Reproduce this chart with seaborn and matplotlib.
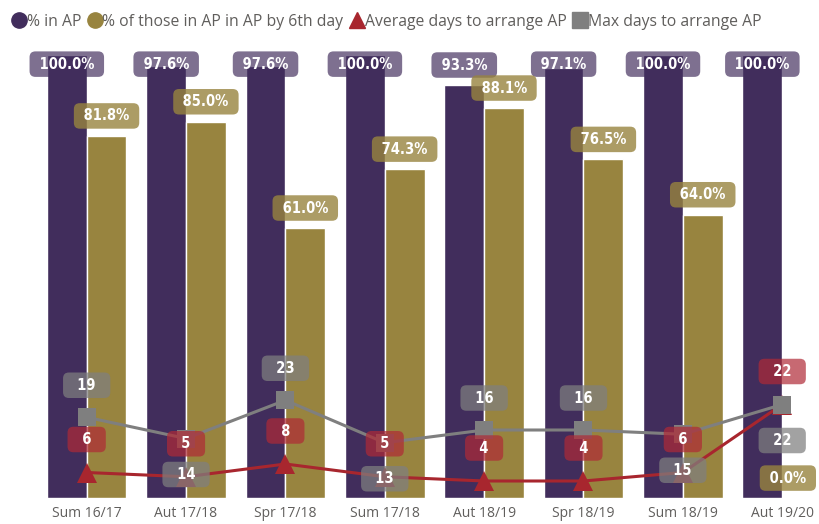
import matplotlib
matplotlib.use('Agg')
import matplotlib.pyplot as plt
import seaborn as sns
import pandas as pd
import numpy as np
from matplotlib.lines import Line2D

categories = ["Sum 16/17", "Aut 17/18", "Spr 17/18", "Sum 17/18",
              "Aut 18/19", "Spr 18/19", "Sum 18/19", "Aut 19/20"]
pct_in_ap = [100.0, 97.6, 97.6, 100.0, 93.3, 97.1, 100.0, 100.0]
pct_by_6th = [81.8, 85.0, 61.0, 74.3, 88.1, 76.5, 64.0, 0.0]
avg_days = [6, 5, 8, 5, 4, 4, 6, 22]
max_days = [19, 14, 23, 13, 16, 16, 15, 22]
series_names = ["% in AP", "% of those in AP in AP by 6th day",
                "Average days to arrange AP", "Max days to arrange AP"]

# label placement for the max-days labels (style)
max_label_side = ["above", "below", "above", "below", "above", "above", "below", "below"]

PURPLE = "#412d5c"
OLIVE = "#98843f"
RED = "#a8262e"
GREY = "#7f7f7f"
TXT = "#605e5c"

sns.set_theme(style="white")
plt.rcParams['font.family'] = ['Open Sans', 'DejaVu Sans']
LABEL_FONT = ['DejaVu Sans']

W, H = 819, 524
fig = plt.figure(figsize=(W / 100, H / 100), dpi=100)
left_px, right_px, top_px, bot_px = 37, 817, 42, 498
ax = fig.add_axes([left_px / W, (H - bot_px) / H, (right_px - left_px) / W, (bot_px - top_px) / H])

df = pd.DataFrame({
    "cat": categories * 2,
    "series": [series_names[0]] * len(categories) + [series_names[1]] * len(categories),
    "value": pct_in_ap + pct_by_6th,
})
sns.barplot(data=df, x="cat", y="value", hue="series", order=categories,
            hue_order=series_names[:2], palette=[PURPLE, OLIVE], saturation=1,
            width=0.8, ax=ax, legend=False, errorbar=None)
ax.set_xlim(-0.5, 7.35)
ax.set_ylim(0, 103)

ax2 = ax.twinx()
ax2.set_ylim(0, 107.3)
xs = np.arange(len(categories))
sns.lineplot(x=xs, y=avg_days, ax=ax2, color=RED, linewidth=2.2, marker="^",
             markersize=15, markeredgewidth=0, zorder=4)
sns.lineplot(x=xs, y=max_days, ax=ax2, color=GREY, linewidth=2.2, marker="s",
             markersize=13, markeredgewidth=0, zorder=5)
ax2.set_xlim(-0.5, 7.35)

for a in (ax, ax2):
    for s in a.spines.values():
        s.set_visible(False)
    a.set_yticks([])
    a.set_ylabel("")
ax.set_xlabel("")
ax.tick_params(axis="x", length=0, pad=6, labelsize=10, labelcolor=TXT)

labels = []

def label(a, x, y, text, color, alpha, dy_px=0, padspaces=1):
    sp = " " * padspaces
    ann = a.annotate(sp + text + sp, (x, y), xytext=(0, dy_px), textcoords="offset pixels",
                     ha="center", va="center", color="white", fontsize=10.5,
                     fontweight="bold", fontstretch="condensed", family=LABEL_FONT, zorder=10,
                     bbox=dict(boxstyle="round,pad=0.36,rounding_size=0.4",
                               fc=color, ec="none", alpha=alpha))
    labels.append(ann)

for i, v in enumerate(pct_in_ap):
    label(ax, i - 0.2, min(v + 4.5, 98.0), f"{v:.1f}%", PURPLE, 0.68)
for i, v in enumerate(pct_by_6th):
    label(ax, i + 0.2, min(v + 4.5, 98.0), f"{v:.1f}%", OLIVE, 0.8)
for i, v in enumerate(max_days):
    dy = 32 if max_label_side[i] == "above" else -36
    label(ax2, i, v, f"{v}", GREY, 0.72, dy, padspaces=2)
for i, v in enumerate(avg_days):
    label(ax2, i, v, f"{v}", "#b02a36", 0.7, 33, padspaces=2)

handles = [
    Line2D([], [], marker="o", color=PURPLE, linestyle="none", markersize=11),
    Line2D([], [], marker="o", color=OLIVE, linestyle="none", markersize=11),
    Line2D([], [], marker="^", color=RED, linestyle="none", markersize=12),
    Line2D([], [], marker="s", color=GREY, linestyle="none", markersize=12),
]
fig.legend(handles, series_names, loc="upper left", bbox_to_anchor=(0.0, 0.995),
           ncol=4, frameon=False, handletextpad=0.0, columnspacing=0.35,
           handlelength=1.0, fontsize=11.3, labelcolor=TXT, borderaxespad=0.3)

# keep label boxes inside the canvas
fig.canvas.draw()
renderer = fig.canvas.get_renderer()
for ann in labels:
    ext = ann.get_bbox_patch().get_window_extent(renderer)
    over = ext.x1 - (W - 3)
    if over > 0:
        dx, dy = ann.xyann
        ann.xyann = (dx - over, dy)

fig.savefig("out.png", dpi=100)
